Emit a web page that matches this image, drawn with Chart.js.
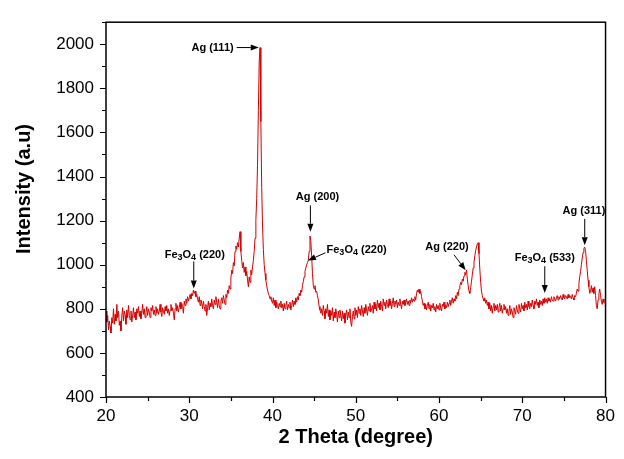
<!DOCTYPE html>
<html>
<head>
<meta charset="utf-8">
<script src="https://cdn.jsdelivr.net/npm/chart.js@4.4.1/dist/chart.umd.min.js"></script>
<style>
  html, body { margin: 0; padding: 0; background: #fff; }
</style>
</head>
<body>
<canvas id="chart-xrd" width="624" height="459"></canvas>
<script>
//
// XRD pattern
//

// 2 theta runs from 20 to 80 in steps of 0.1
var thetaStart = 20;
var thetaStep = 0.1;

var intensity = [
  790, 740, 770, 705, 745, 720, 690, 760, 735, 800,
  730, 775, 745, 820, 760, 790, 725, 745, 700, 770,
  805, 745, 790, 770, 730, 795, 760, 815, 770, 750,
  790, 740, 770, 805, 760, 785, 750, 800, 780, 810,
  765, 790, 755, 780, 820, 775, 800, 760, 785, 810,
  770, 800, 785, 760, 805, 790, 815, 775, 795, 770,
  810, 780, 800, 775, 790, 820, 785, 765, 805, 790,
  775, 810, 790, 815, 780, 800, 770, 795, 820, 790,
  805, 780, 750, 800, 825, 790, 815, 785, 805, 830,
  800, 825, 810, 780, 835, 815, 845, 825, 855, 835,
  850, 865, 845, 870, 860, 885, 870, 880, 855, 865,
  845, 830, 855, 815, 840, 825, 800, 835, 810, 790,
  820, 770, 805, 835, 795, 825, 810, 845, 815, 800,
  840, 820, 855, 830, 805, 845, 815, 800, 835, 850,
  825, 860, 840, 820, 865, 850, 885, 870, 905, 890,
  940, 975, 960, 1010, 995, 1060, 1085, 1070, 1100, 1080,
  1120, 1150, 1060, 1020, 985, 1010, 965, 990, 950, 970,
  930, 900, 945, 920, 975, 955, 990, 1020, 1060, 1120,
  1200, 1300, 1450, 1700, 1920, 1985, 1650, 1350, 1180, 1070,
  1000, 960, 930, 905, 885, 870, 860, 845, 855, 835,
  825, 850, 815, 840, 805, 830, 815, 800, 825, 810,
  835, 805, 820, 790, 825, 800, 815, 835, 795, 820,
  805, 830, 795, 815, 840, 810, 835, 820, 850, 830,
  855, 840, 870, 860, 885, 875, 905, 925, 945, 970,
  985, 1000, 1010, 1020, 1060, 1130, 1110, 1040, 960, 905,
  890, 905, 875, 880, 860, 840, 810, 795, 780, 800,
  770, 815, 790, 755, 800, 780, 820, 765, 795, 750,
  790, 770, 805, 745, 785, 760, 800, 775, 740, 790,
  760, 795, 770, 745, 790, 755, 780, 735, 775, 795,
  750, 785, 760, 800, 740, 720, 765, 790, 755, 805,
  770, 795, 760, 810, 780, 800, 770, 815, 790, 765,
  805, 780, 820, 795, 770, 810, 790, 825, 785, 800,
  815, 780, 830, 800, 820, 790, 840, 805, 825, 795,
  835, 810, 790, 845, 815, 830, 800, 840, 820, 805,
  845, 815, 835, 800, 825, 850, 810, 835, 820, 840,
  805, 830, 815, 845, 820, 800, 835, 820, 840, 815,
  830, 845, 820, 835, 815, 840, 825, 850, 830, 845,
  835, 855, 840, 870, 885, 875, 890, 870, 880, 855,
  835, 815, 825, 800, 820, 795, 815, 830, 800, 820,
  790, 815, 805, 825, 795, 810, 785, 820, 800, 815,
  795, 825, 805, 790, 820, 810, 830, 800, 815, 805,
  830, 810, 825, 840, 815, 835, 850, 825, 845, 835,
  860, 845, 875, 860, 890, 905, 920, 910, 935, 925,
  950, 965, 955, 975, 935, 905, 880, 870, 895, 925,
  955, 985, 1010, 1040, 1065, 1080, 1095, 1100, 1050, 980,
  920, 880, 860, 845, 835, 850, 825, 840, 815, 830,
  800, 825, 790, 815, 780, 810, 825, 790, 815, 795,
  820, 785, 805, 825, 790, 815, 780, 800, 820, 795,
  810, 780, 800, 770, 790, 815, 775, 800, 785, 760,
  805, 790, 775, 815, 795, 780, 820, 800, 785, 825,
  800, 815, 790, 830, 805, 820, 795, 835, 810, 800,
  825, 810, 840, 815, 800, 835, 820, 845, 815, 830,
  805, 840, 820, 835, 815, 845, 825, 850, 830, 845,
  825, 850, 835, 845, 830, 855, 840, 835, 855, 845,
  835, 850, 860, 840, 855, 845, 860, 850, 840, 865,
  850, 845, 860, 855, 845, 865, 850, 860, 855, 845,
  865, 850, 840, 860, 855, 870, 890, 880, 915, 945,
  970, 1000, 1030, 1055, 1075, 1080, 1060, 1020, 975, 930,
  900, 870, 880, 905, 875, 895, 870, 900, 860, 815,
  800, 840, 870, 890, 860, 835, 820, 845, 830, 825,
  835
];

var xTicks = [20, 30, 40, 50, 60, 70, 80];
var xMinorTicks = [25, 35, 45, 55, 65, 75];
var yTicks = [400, 600, 800, 1000, 1200, 1400, 1600, 1800, 2000];
var yMinorTicks = [500, 700, 900, 1100, 1300, 1500, 1700, 1900, 2100];

var yTitle = "Intensity (a.u)";

// peak labels: text parts ([text, isSubscript]), text centre and arrow, in data units
var peakNotes = [
  { parts: [["Ag (111)", 0]], at: [32.8, 1985], arrow: [35.7, 1985, 38.35, 1985] },
  { parts: [["Ag (200)", 0]], at: [45.4, 1309], arrow: [44.55, 1269, 44.55, 1150] },
  { parts: [["Fe", 0], ["3", 1], ["O", 0], ["4", 1], [" (220)", 0]], at: [50.1, 1067], arrow: [46.35, 1054, 44.25, 1019] },
  { parts: [["Fe", 0], ["3", 1], ["O", 0], ["4", 1], [" (220)", 0]], at: [30.66, 1045], arrow: [30.54, 1015, 30.54, 892] },
  { parts: [["Ag (220)", 0]], at: [60.96, 1080], arrow: [61.8, 1045, 63.2, 975] },
  { parts: [["Fe", 0], ["3", 1], ["O", 0], ["4", 1], [" (533)", 0]], at: [72.7, 1032], arrow: [72.7, 993, 72.7, 872] },
  { parts: [["Ag (311)", 0]], at: [77.4, 1243], arrow: [77.5, 1208, 77.5, 1088] }
];

var points = intensity.map(function (v, i) {
  return { x: Math.round((thetaStart + i * thetaStep) * 10) / 10, y: v };
});

var fontFamily = "'Liberation Sans', Arial, sans-serif";

// frame, tick marks, y title and peak labels
var decorPlugin = {
  id: "decor",
  afterDraw: function (chart) {
    var ctx = chart.ctx;
    var a = chart.chartArea;
    var xs = chart.scales.x;
    var ys = chart.scales.y;

    ctx.save();
    ctx.strokeStyle = "#000";
    ctx.lineWidth = 1.5;
    ctx.strokeRect(a.left, a.top, a.right - a.left, a.bottom - a.top);

    ctx.lineWidth = 1.2;
    ctx.beginPath();
    xTicks.forEach(function (v) {
      var px = Math.round(xs.getPixelForValue(v)) + 0.5;
      ctx.moveTo(px, a.bottom); ctx.lineTo(px, a.bottom + 6);
    });
    xMinorTicks.forEach(function (v) {
      var px = Math.round(xs.getPixelForValue(v)) + 0.5;
      ctx.moveTo(px, a.bottom); ctx.lineTo(px, a.bottom + 4);
    });
    yTicks.forEach(function (v) {
      var py = Math.round(ys.getPixelForValue(v)) + 0.5;
      ctx.moveTo(a.left, py); ctx.lineTo(a.left - 6, py);
    });
    yMinorTicks.forEach(function (v) {
      var py = Math.round(ys.getPixelForValue(v)) + 0.5;
      ctx.moveTo(a.left, py); ctx.lineTo(a.left - 4, py);
    });
    ctx.stroke();

    // y axis title, sits a little above the middle of the axis
    ctx.fillStyle = "#000";
    ctx.save();
    ctx.translate(24, 189);
    ctx.rotate(-Math.PI / 2);
    ctx.font = "bold 20px " + fontFamily;
    ctx.textAlign = "center";
    ctx.textBaseline = "middle";
    ctx.fillText(yTitle, 0, 0);
    ctx.restore();

    // peak labels
    ctx.textBaseline = "middle";
    ctx.textAlign = "left";
    peakNotes.forEach(function (n) {
      var total = 0;
      n.parts.forEach(function (p) {
        ctx.font = "bold " + (p[1] ? 9 : 11) + "px " + fontFamily;
        total += ctx.measureText(p[0]).width;
      });
      var cx = xs.getPixelForValue(n.at[0]) - total / 2;
      var cy = ys.getPixelForValue(n.at[1]);
      n.parts.forEach(function (p) {
        ctx.font = "bold " + (p[1] ? 9 : 11) + "px " + fontFamily;
        ctx.fillText(p[0], cx, cy + (p[1] ? 3 : 0));
        cx += ctx.measureText(p[0]).width;
      });

      var x1 = xs.getPixelForValue(n.arrow[0]);
      var y1 = ys.getPixelForValue(n.arrow[1]);
      var x2 = xs.getPixelForValue(n.arrow[2]);
      var y2 = ys.getPixelForValue(n.arrow[3]);
      var ang = Math.atan2(y2 - y1, x2 - x1);
      var hl = 8, hw = 3;
      ctx.lineWidth = 1;
      ctx.beginPath();
      ctx.moveTo(x1, y1);
      ctx.lineTo(x2 - hl * Math.cos(ang), y2 - hl * Math.sin(ang));
      ctx.stroke();
      ctx.beginPath();
      ctx.moveTo(x2, y2);
      ctx.lineTo(x2 - hl * Math.cos(ang) + hw * Math.sin(ang), y2 - hl * Math.sin(ang) - hw * Math.cos(ang));
      ctx.lineTo(x2 - hl * Math.cos(ang) - hw * Math.sin(ang), y2 - hl * Math.sin(ang) + hw * Math.cos(ang));
      ctx.closePath();
      ctx.fill();
    });
    ctx.restore();
  }
};

var xrdChart = new Chart(document.getElementById("chart-xrd"), {
  type: "line",
  data: {
    datasets: [
      {
        label: "Intensity",
        data: points,
        borderColor: "#d40000",
        borderWidth: 1,
        pointRadius: 0,
        tension: 0
      }
    ]
  },
  options: {
    responsive: false,
    animation: false,
    devicePixelRatio: 1,
    layout: { padding: { top: 10, right: 17, left: 0, bottom: 0 } },
    plugins: { legend: { display: false }, tooltip: { enabled: false } },
    scales: {
      x: {
        type: "linear",
        min: 20,
        max: 80,
        afterBuildTicks: function (scale) {
          scale.ticks = xTicks.map(function (v) { return { value: v }; });
        },
        afterFit: function (scale) { scale.height = 62; },
        grid: { display: false, drawTicks: false },
        border: { display: false },
        ticks: {
          color: "#000",
          padding: 9,
          maxRotation: 0,
          font: { family: fontFamily, size: 17 },
          callback: function (v) { return String(v); }
        },
        title: {
          display: true,
          text: "2 Theta (degree)",
          color: "#000",
          padding: { top: 0, bottom: 10 },
          font: { family: fontFamily, size: 20, weight: "bold" }
        }
      },
      y: {
        min: 400,
        max: 2100,
        afterBuildTicks: function (scale) {
          scale.ticks = yTicks.map(function (v) { return { value: v }; });
        },
        afterFit: function (scale) { scale.width = 106; },
        grid: { display: false, drawTicks: false },
        border: { display: false },
        ticks: {
          color: "#000",
          padding: 12,
          font: { family: fontFamily, size: 17 },
          callback: function (v) { return String(v); }
        }
      }
    }
  },
  plugins: [decorPlugin]
});
</script>
</body>
</html>
